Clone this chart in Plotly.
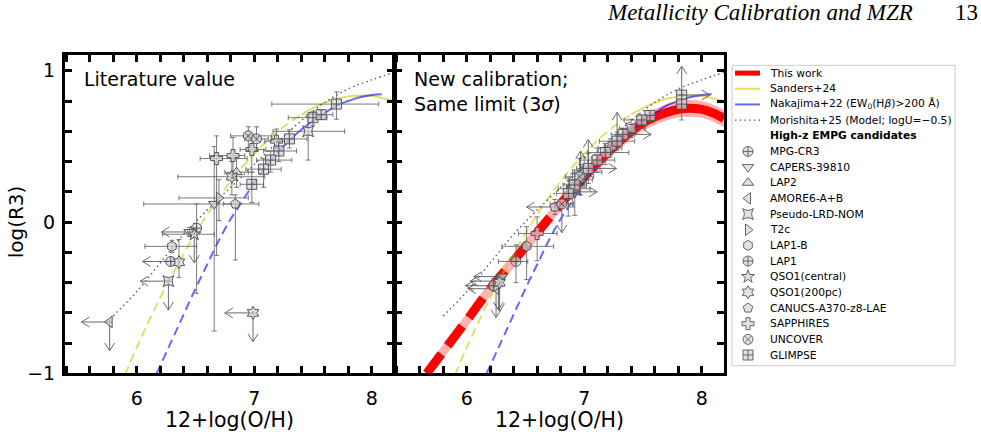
import plotly.graph_objects as go

W, H = 981, 441

# ---------------- values ----------------
# calibration curves: x = 12+log(O/H), y = log(R3)
sanders_x = [5.90, 6.00, 6.20, 6.40, 6.60, 6.80, 7.00, 7.20, 7.40, 7.60, 7.80, 8.00, 8.19]
sanders_y = [-1.01, -0.83, -0.50, -0.21, 0.05, 0.27, 0.45, 0.60, 0.71, 0.79, 0.83, 0.834, 0.80]
SANDERS_SOLID_FROM = 7.40

nakajima_x = [6.17, 6.30, 6.40, 6.50, 6.60, 6.70, 6.80, 6.90, 7.00, 7.10, 7.20, 7.30, 7.40,
              7.50, 7.60, 7.70, 7.80, 7.90, 8.00, 8.085]
nakajima_y = [-1.00, -0.78, -0.61, -0.44, -0.28, -0.12, 0.02, 0.14, 0.26, 0.37, 0.46, 0.54, 0.61,
              0.67, 0.72, 0.77, 0.80, 0.825, 0.84, 0.845]
NAKAJIMA_SOLID_FROM = 7.20

morishita_x = [5.80, 6.00, 6.20, 6.40, 6.60, 6.80, 7.00, 7.20, 7.40, 7.60, 7.80, 8.00, 8.19]
morishita_y = [-0.62, -0.46, -0.27, -0.08, 0.08, 0.23, 0.38, 0.53, 0.67, 0.79, 0.88, 0.94, 0.99]

thiswork_x = [5.66, 5.80, 6.00, 6.20, 6.40, 6.60, 6.80, 7.00, 7.20, 7.40, 7.50, 7.60, 7.70,
              7.80, 7.90, 8.00, 8.10, 8.19]
thiswork_y = [-1.00, -0.855, -0.65, -0.44, -0.255, -0.07, 0.12, 0.30, 0.46, 0.60, 0.655, 0.695,
              0.725, 0.745, 0.752, 0.745, 0.72, 0.685]
thiswork_err = [0.048, 0.048, 0.048, 0.048, 0.048, 0.048, 0.048, 0.049, 0.050, 0.051, 0.052, 0.053,
                0.054, 0.054, 0.055, 0.055, 0.056, 0.057]
THISWORK_SOLID_FROM = 6.80

# --- Literature values (left panel) ---
lit_obj = ["GLIMPSE", "GLIMPSE", "GLIMPSE", "GLIMPSE", "GLIMPSE", "GLIMPSE", "GLIMPSE", "GLIMPSE",
           "UNCOVER", "UNCOVER", "SAPPHIRES", "SAPPHIRES", "SAPPHIRES", "SAPPHIRES",
           "Pseudo-LRD-NOM", "QSO1(200pc)", "LAP2", "T2c", "CAPERS-39810", "CANUCS-A370-z8-LAE",
           "MPG-CR3", "QSO1(central)", "LAP1-B", "LAP1", "QSO1(200pc)", "Pseudo-LRD-NOM",
           "AMORE6-A+B", "QSO1(200pc)", "CAPERS-39810"]
lit_x = [7.70, 7.50, 7.57, 7.30, 7.21, 7.14, 7.08, 6.98, 6.95, 7.02, 7.19, 6.68, 6.82, 6.98,
         7.46, 6.81, 6.85, 6.70, 6.66, 6.84, 6.51, 6.49, 6.30, 6.29, 6.36, 6.27, 5.77, 6.99, 6.45]
lit_y = [0.78, 0.69, 0.71, 0.55, 0.47, 0.41, 0.35, 0.25, 0.57, 0.55, 0.535, 0.42, 0.44, 0.48,
         0.60, 0.30, 0.33, 0.16, 0.12, 0.12, -0.04, -0.08, -0.16, -0.26, -0.265, -0.39, -0.66, -0.60, -0.065]
lit_xlo = [0.55, 0.21, 0.10, 0.15, 0.13, 0.12, 0.15, 0.10, 0.15, 0.10, 0.10, 0.14, 0.20, 0.10,
           0.30, 0.46, 0.10, 0.34, 0.60, 0.10, 0, 0.27, 0.23, 0, 0, 0, 0, 0, 0]
lit_xhi = [0.36, 0.12, 0.10, 0.15, 0.15, 0.18, 0.15, 0.10, 0.20, 0.10, 0.10, 0.26, 0.10, 0.12,
           0.31, 0.28, 0.10, 0.25, 0.20, 0.20, 0, 0.17, 0.21, 0, 0, 0, 0, 0, 0]
lit_ylo = [0.10, 0.05, 0.03, 0.06, 0.07, 0.08, 0.12, 0.12, 0.10, 0.08, 0.05, 0.64, 0.15, 0.15,
           0.19, 0.12, 0.10, 0.15, 0.84, 0.37, 0.43, 0, 0.04, 0, 0.10, 0, 0, 0, 0.03]
lit_yhi = [0.08, 0.04, 0.03, 0.06, 0.06, 0.06, 0.07, 0.08, 0.06, 0.08, 0.08, 0.15, 0.12, 0.10,
           0.11, 0.10, 0.10, 0.12, 0.38, 0.06, 0.16, 0, 0.04, 0, 0.15, 0, 0, 0, 0.03]
lit_lim = ["", "", "", "", "", "", "", "", "", "", "", "", "", "", "", "", "", "", "", "",
           "", "D", "", "L", "", "LD", "LD", "LD", "L"]

# --- New calibration (right panel) ---
new_obj = ["GLIMPSE", "GLIMPSE", "GLIMPSE", "GLIMPSE", "GLIMPSE", "GLIMPSE", "GLIMPSE", "GLIMPSE",
           "GLIMPSE", "GLIMPSE", "GLIMPSE", "UNCOVER", "UNCOVER", "SAPPHIRES", "SAPPHIRES",
           "Pseudo-LRD-NOM", "QSO1(200pc)", "LAP2", "T2c", "CANUCS-A370-z8-LAE", "SAPPHIRES",
           "LAP1-B", "MPG-CR3", "QSO1(central)", "AMORE6-A+B", "LAP1", "CAPERS-39810", "QSO1(200pc)"]
new_x = [7.83, 7.83, 7.56, 7.49, 7.33, 7.28, 7.18, 7.11, 7.035, 6.92, 6.865, 6.81, 6.96, 7.00, 7.22,
         7.40, 6.90, 6.97, 6.87, 6.75, 6.60, 6.51, 6.42, 6.27, 6.25, 6.23, 6.30, 6.28]
new_y = [0.84, 0.78, 0.705, 0.675, 0.58, 0.535, 0.46, 0.41, 0.355, 0.245, 0.19, 0.12, 0.30, 0.33, 0.49,
         0.62, 0.22, 0.28, 0.20, 0.10, -0.075, -0.16, -0.26, -0.39, -0.44, -0.42, -0.36, -0.40]
new_xlo = [0, 0, 0.10, 0.15, 0.10, 0.15, 0.15, 0.15, 0.10, 0.10, 0.10, 0.10, 0.12, 0.10, 0.10,
           0.10, 0.12, 0.10, 0, 0, 0.16, 0.21, 0.15, 0, 0, 0, 0, 0]
new_xhi = [0, 0, 0.10, 0.10, 0.10, 0.15, 0.20, 0.15, 0.10, 0.10, 0.10, 0.10, 0.12, 0.15, 0.10,
           0.12, 0.15, 0.10, 0, 0, 0.17, 0.23, 0.10, 0, 0, 0, 0, 0]
new_ylo = [0, 0.105, 0.03, 0.03, 0.04, 0.06, 0.08, 0.08, 0.10, 0.20, 0.15, 0, 0.12, 0.10, 0.06,
           0.06, 0.12, 0.10, 0.05, 0.05, 0.18, 0.22, 0.14, 0, 0, 0, 0, 0]
new_yhi = [0, 0.06, 0.03, 0.03, 0.04, 0.06, 0.06, 0.08, 0.10, 0.10, 0.10, 0, 0.12, 0.10, 0.06,
           0.06, 0.10, 0.10, 0.05, 0.05, 0.11, 0.13, 0.11, 0, 0, 0, 0, 0]
new_lim = ["RU", "", "", "", "R", "U", "", "", "RU", "", "", "D", "", "", "", "", "", "U", "R", "L",
           "", "", "", "LD", "LD", "L", "L", "D"]

objects = ["MPG-CR3", "CAPERS-39810", "LAP2", "AMORE6-A+B", "Pseudo-LRD-NOM", "T2c", "LAP1-B", "LAP1",
           "QSO1(central)", "QSO1(200pc)", "CANUCS-A370-z8-LAE", "SAPPHIRES", "UNCOVER", "GLIMPSE"]
symbols = ["circle-cross", "triangle-down", "triangle-up", "triangle-left", "star-square",
           "triangle-right", "hexagon", "circle-cross", "star", "hexagram", "pentagon", "cross",
           "circle-x", "square-cross"]

curve_labels = ["This work", "Sanders+24", "Nakajima+22 (EW<sub>0</sub>(H<i>β</i>)>200 Å)",
                "Morishita+25 (Model; logU=−0.5)"]
group_label = "<b>High-z EMPG candidates</b>"

# ---------------- layout constants ----------------
X_RANGE = [5.39, 8.19]
Y_RANGE = [-1.0, 1.107]
LEFT_PX = (65, 394)
RIGHT_PX = (395, 724)
TOP_PX, BOT_PX = 56, 383
SX = (LEFT_PX[1] - LEFT_PX[0]) / (X_RANGE[1] - X_RANGE[0])   # px per x unit
SY = (BOT_PX - TOP_PX) / (Y_RANGE[1] - Y_RANGE[0])            # px per y unit

RED = "#ff0000"
YEL = "rgba(204,204,0,0.6)"
BLU = "rgba(0,0,255,0.6)"
MOR = "#555555"
GRAY = "#6a6a6a"
MFILL = "rgba(214,214,224,0.7)"
FONT = "DejaVu Sans"


def pxx(p):
    return p / W


def pxy(p):
    return 1 - p / H


def split(xs, ys, x0):
    lo = [(x, y) for x, y in zip(xs, ys) if x <= x0]
    hi = [(x, y) for x, y in zip(xs, ys) if x >= x0]
    return ([a for a, _ in lo], [b for _, b in lo]), ([a for a, _ in hi], [b for _, b in hi])


def nz(v):
    return [None if a == 0 else a for a in v]


def arrows(xs, ys, lims, lx=0.24, ly=0.19):
    hw, hl = 5.0, 8.0
    X, Y = [], []
    for x, y, lim in zip(xs, ys, lims):
        for c in lim:
            if c in "LR":
                d = -1 if c == "L" else 1
                tx = x + d * lx
                X += [x, tx, None, tx - d * hl / SX, tx, tx - d * hl / SX, None]
                Y += [y, y, None, y + hw / SY, y, y - hw / SY, None]
            else:
                d = -1 if c == "D" else 1
                ty = y + d * ly
                X += [x, x, None, x - hw / SX, x, x + hw / SX, None]
                Y += [y, ty, None, ty - d * hl / SY, ty, ty - d * hl / SY, None]
    return X, Y


fig = go.Figure()


def add_curves(xa, ya):
    (sdx, sdy), (ssx, ssy) = split(sanders_x, sanders_y, SANDERS_SOLID_FROM)
    (ndx, ndy), (nsx, nsy) = split(nakajima_x, nakajima_y, NAKAJIMA_SOLID_FROM)
    common = dict(xaxis=xa, yaxis=ya, mode="lines", showlegend=False, hoverinfo="skip")
    fig.add_trace(go.Scatter(x=sdx, y=sdy, line=dict(color=YEL, width=2, dash="9px,5px", shape="spline"), **common))
    fig.add_trace(go.Scatter(x=ssx, y=ssy, line=dict(color=YEL, width=2, shape="spline"), **common))
    fig.add_trace(go.Scatter(x=ndx, y=ndy, line=dict(color=BLU, width=2, dash="9px,5px", shape="spline"), **common))
    fig.add_trace(go.Scatter(x=nsx, y=nsy, line=dict(color=BLU, width=2, shape="spline"), **common))
    fig.add_trace(go.Scatter(x=morishita_x, y=morishita_y,
                             line=dict(color=MOR, width=1.3, dash="1.5px,3.2px", shape="spline"), **common))


def add_points(xa, ya, obj, xs, ys, xlo, xhi, ylo, yhi, lim):
    ax, ay = arrows(xs, ys, lim)
    fig.add_trace(go.Scatter(x=ax, y=ay, xaxis=xa, yaxis=ya, mode="lines",
                             line=dict(color=GRAY, width=1), showlegend=False, hoverinfo="skip"))
    for name, sym in zip(objects, symbols):
        idx = [i for i, o in enumerate(obj) if o == name]
        if not idx:
            continue
        fig.add_trace(go.Scatter(
            x=[xs[i] for i in idx], y=[ys[i] for i in idx], xaxis=xa, yaxis=ya, mode="markers",
            marker=dict(symbol=sym, size=10, color=MFILL, line=dict(color="#555555", width=1)),
            error_x=dict(type="data", symmetric=False, array=nz([xhi[i] for i in idx]),
                         arrayminus=nz([xlo[i] for i in idx]), color="rgba(90,90,90,0.8)",
                         thickness=1, width=2.5),
            error_y=dict(type="data", symmetric=False, array=nz([yhi[i] for i in idx]),
                         arrayminus=nz([ylo[i] for i in idx]), color="rgba(90,90,90,0.8)",
                         thickness=1, width=2.5),
            showlegend=False, name=name))


# left panel
add_curves("x", "y")
add_points("x", "y", lit_obj, lit_x, lit_y, lit_xlo, lit_xhi, lit_ylo, lit_yhi, lit_lim)

# right panel: this work band + line
fig.add_trace(go.Scatter(x=thiswork_x, y=[a - e for a, e in zip(thiswork_y, thiswork_err)],
                         xaxis="x2", yaxis="y2", mode="lines", line=dict(width=0, shape="spline"),
                         showlegend=False, hoverinfo="skip"))
fig.add_trace(go.Scatter(x=thiswork_x, y=[a + e for a, e in zip(thiswork_y, thiswork_err)],
                         xaxis="x2", yaxis="y2", mode="lines", line=dict(width=0, shape="spline"),
                         fill="tonexty", fillcolor="rgba(255,0,0,0.3)", showlegend=False, hoverinfo="skip"))
(tdx, tdy), (tsx, tsy) = split(thiswork_x, thiswork_y, THISWORK_SOLID_FROM)
fig.add_trace(go.Scatter(x=tdx, y=tdy, xaxis="x2", yaxis="y2", mode="lines",
                         line=dict(color=RED, width=9, dash="24px,11px", shape="spline"),
                         showlegend=False, hoverinfo="skip"))
fig.add_trace(go.Scatter(x=tsx, y=tsy, xaxis="x2", yaxis="y2", mode="lines",
                         line=dict(color=RED, width=9, shape="spline"), showlegend=False, hoverinfo="skip"))
add_curves("x2", "y2")
add_points("x2", "y2", new_obj, new_x, new_y, new_xlo, new_xhi, new_ylo, new_yhi, new_lim)

# ---------------- hand-built legend (pixel coordinates on an overlay axis) ----------------
LEG_L, LEG_T, LEG_R, LEG_B = 732, 67, 955, 375
ROW0, DY = 75, 16.06
SYM_X, LINE_X0, LINE_X1, TEXT_X = 748, 735, 760, 767.5
labels = curve_labels + [group_label] + objects
rows = [ROW0 + i * DY for i in range(len(labels))]
line_styles = [dict(color=RED, width=5), dict(color=YEL, width=2), dict(color=BLU, width=2),
               dict(color=MOR, width=1.3, dash="1.5px,3.2px")]
for st, r in zip(line_styles, rows[:4]):
    fig.add_trace(go.Scatter(x=[LINE_X0, LINE_X1], y=[r, r], xaxis="x3", yaxis="y3", mode="lines",
                             line=st, showlegend=False, hoverinfo="skip"))
fig.add_trace(go.Scatter(x=[SYM_X] * len(objects), y=rows[5:], xaxis="x3", yaxis="y3", mode="markers",
                         marker=dict(symbol=symbols, size=10, color=MFILL, line=dict(color="#666666", width=1)),
                         showlegend=False, hoverinfo="skip"))

annotations = []
for lab, r in zip(labels, rows):
    annotations.append(dict(text=lab, x=TEXT_X, y=r, xref="x3", yref="y3", xanchor="left",
                            yanchor="middle", showarrow=False, font=dict(family=FONT, size=10.7, color="black")))

shapes = [dict(type="rect", xref="x3", yref="y3", x0=LEG_L, x1=LEG_R, y0=LEG_T, y1=LEG_B,
               line=dict(color="#cccccc", width=1), fillcolor="rgba(255,255,255,0.8)", layer="below")]

# panel texts, axis titles, header
annotations += [
    dict(text="Literature value", x=pxx(81.5), y=pxy(81), xref="paper", yref="paper", xanchor="left",
         yanchor="middle", showarrow=False, font=dict(family=FONT, size=19, color="black")),
    dict(text="New calibration;<br>Same limit (3<i>σ</i>)", x=pxx(411.5), y=pxy(94), xref="paper",
         yref="paper", xanchor="left", yanchor="middle", align="left", showarrow=False,
         font=dict(family=FONT, size=19, color="black")),
    dict(text="log(R3)", x=pxx(16), y=pxy(228), xref="paper", yref="paper", textangle=-90,
         xanchor="center", yanchor="middle",
         showarrow=False, font=dict(family=FONT, size=20, color="black")),
    dict(text="12+log(O/H)", x=pxx(229.5), y=pxy(431), xref="paper", yref="paper",
         xanchor="center", yanchor="middle", borderpad=0,
         showarrow=False, font=dict(family=FONT, size=20.5, color="black")),
    dict(text="12+log(O/H)", x=pxx(559.5), y=pxy(431), xref="paper", yref="paper",
         xanchor="center", yanchor="middle", borderpad=0,
         showarrow=False, font=dict(family=FONT, size=20.5, color="black")),
    dict(text="<i>Metallicity Calibration and MZR</i>", x=pxx(915), y=pxy(13), xref="paper", yref="paper",
         xanchor="right", yanchor="middle", showarrow=False,
         font=dict(family="Liberation Serif", size=23, color="black")),
    dict(text="13", x=pxx(980), y=pxy(13), xref="paper", yref="paper", xanchor="right",
         yanchor="middle", showarrow=False, font=dict(family="Liberation Serif", size=23, color="black")),
]

axis_common = dict(showline=True, linewidth=3, linecolor="black", mirror="allticks",
                   ticks="inside", ticklen=7, tickwidth=2.5, tickcolor="black",
                   showgrid=False, zeroline=False, tick0=0, dtick=1,
                   tickfont=dict(family=FONT, size=19, color="black"),
                   minor=dict(ticks="inside", ticklen=7, tickwidth=2.5, tickcolor="black",
                              dtick=0.2, showgrid=False))
ydom = [pxy(BOT_PX), pxy(TOP_PX)]

fig.update_layout(
    width=W, height=H, margin=dict(l=0, r=0, t=0, b=0),
    paper_bgcolor="white", plot_bgcolor="rgba(0,0,0,0)", showlegend=False,
    xaxis=dict(domain=[pxx(LEFT_PX[0]), pxx(LEFT_PX[1])], range=X_RANGE, anchor="y",
               ticklabelstandoff=6, **axis_common),
    yaxis=dict(domain=ydom, range=Y_RANGE, anchor="x", ticklabelstandoff=3, **axis_common),
    xaxis2=dict(domain=[pxx(RIGHT_PX[0]), pxx(RIGHT_PX[1])], range=X_RANGE, anchor="y2",
                ticklabelstandoff=6, **axis_common),
    yaxis2=dict(domain=ydom, range=Y_RANGE, anchor="x2", showticklabels=False, **axis_common),
    xaxis3=dict(domain=[0, 1], range=[0, W], anchor="y3", visible=False, fixedrange=True),
    yaxis3=dict(domain=[0, 1], range=[H, 0], anchor="x3", visible=False, fixedrange=True),
    annotations=annotations, shapes=shapes,
)

fig.write_html("out.html")
